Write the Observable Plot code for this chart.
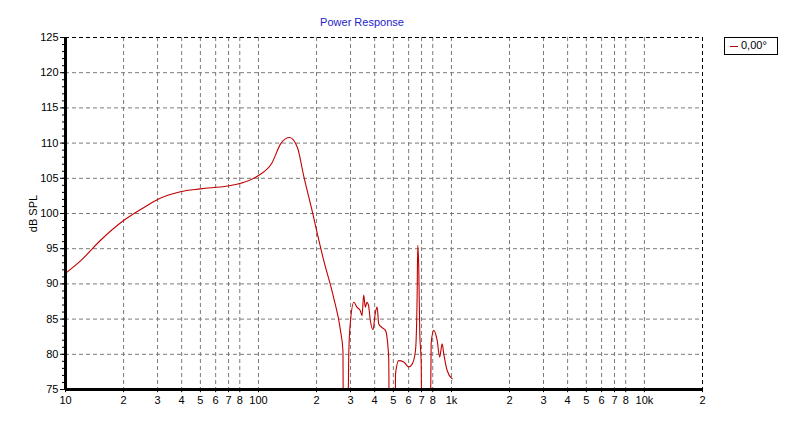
<!DOCTYPE html>
<html>
<head>
<meta charset="utf-8">
<script src="https://cdn.jsdelivr.net/npm/d3@7"></script>
<script src="https://cdn.jsdelivr.net/npm/@observablehq/plot@0.6"></script>
<style>
  html, body { margin: 0; padding: 0; background: #fff; }
  #wrap { position: relative; width: 792px; height: 426px; font-family: "Liberation Sans", Arial, sans-serif; }
  #title { position: absolute; left: 0; width: 724px; top: 16px; text-align: center; font-size: 11px; color: #2424c8; }
  #legend { position: absolute; left: 724px; top: 37px; width: 52px; height: 16px; border: 1px solid #000; font-size: 11px; box-sizing: content-box; }
  #legend .sw { position: absolute; left: 5px; top: 8px; width: 8px; height: 1px; background: #c00000; }
  #legend .tx { position: absolute; left: 16px; top: 1px; }
</style>
</head>
<body>
<div id="wrap">
  <div id="title">Power Response</div>
  <div id="legend"><div class="sw"></div><div class="tx">0,00°</div></div>
  <div id="chart"></div>
</div>
<script>
const freq = [10, 12, 15.2, 20, 26, 30, 39.4, 50, 69, 81, 100, 117, 131, 145, 159, 172, 193, 200, 218, 245, 266, 274, 276,
  288, 294, 300, 312, 324, 337, 344, 351, 358, 365, 372, 380, 392, 404, 412, 420, 437, 455, 473, 479,
  507, 513, 533, 566, 601, 626, 651, 664, 669, 677, 685, 697, 705,
  772, 785, 809, 843, 869, 895, 912, 950, 1009];
const spl = [91.5, 93.3, 96.2, 99.0, 101.0, 102.0, 103.1, 103.5, 103.9, 104.3, 105.4, 107.1, 110.0, 110.8, 109.4, 105.2, 99.5, 97.6, 93.3, 88.1, 83.4, 80.5, 60,
  60, 80.5, 84.8, 87.4, 86.7, 86.2, 85.5, 88.4, 86.7, 87.4, 86.9, 84.8, 83.5, 86.0, 86.7, 84.3, 83.8, 83.4, 79.6, 60,
  60, 77.2, 79.1, 78.9, 78.2, 78.6, 80.5, 88.1, 95.5, 92.4, 83.4, 78.6, 60,
  60, 81.5, 83.4, 82.0, 79.6, 81.5, 80.1, 77.7, 76.5];
const xTicks = [10, 20, 30, 40, 50, 60, 70, 80, 100, 200, 300, 400, 500, 600, 700, 800, 1000, 2000, 3000, 4000, 5000, 6000, 7000, 8000, 10000, 20000];
const xTickLabels = ["10", "2", "3", "4", "5", "6", "7", "8", "100", "2", "3", "4", "5", "6", "7", "8", "1k", "2", "3", "4", "5", "6", "7", "8", "10k", "2"];
const yMajor = [75, 80, 85, 90, 95, 100, 105, 110, 115, 120, 125];
const yMinor = d3.range(75, 126);

const data = freq.map((f, i) => ({f, db: spl[i]}));
const xt = xTicks.map((t, i) => ({t, label: xTickLabels[i]}));
const grid = {stroke: "#7a7a7a", strokeOpacity: 1, strokeDasharray: "4,3", strokeWidth: 1};
const border = {stroke: "#000", strokeOpacity: 1, strokeDasharray: "4,3", strokeWidth: 1};

const chart = Plot.plot({
  width: 792,
  height: 426,
  marginLeft: 65,
  marginRight: 90,
  marginTop: 37,
  marginBottom: 37,
  style: {fontFamily: "Liberation Sans, Arial, sans-serif", fontSize: "11px", color: "#000", background: "transparent"},
  x: {type: "log", domain: [10, 20000], axis: null},
  y: {domain: [75, 125], axis: null},
  marks: [
    Plot.ruleX(xt.slice(0, -1), {x: "t", ...grid}),
    Plot.ruleY(yMajor.slice(0, -1), grid),
    Plot.ruleX([20000], border),
    Plot.ruleY([125], border),
    Plot.axisY({ticks: yMinor, tickSize: 3, tickFormat: () => "", label: null}),
    Plot.axisY({ticks: yMajor, tickSize: 5, tickPadding: 2, fontSize: 11, label: "dB SPL", labelAnchor: "center", labelArrow: "none", labelOffset: 36}),
    Plot.ruleX(xt, {x: "t", y1: 75, y2: 74.55, stroke: "#000", strokeWidth: 1}),
    Plot.text(xt, {x: "t", text: "label", frameAnchor: "bottom", dy: 14, fontSize: 11, fill: "#000"}),
    Plot.line(data, {x: "f", y: "db", stroke: "#c00000", strokeWidth: 1.1, clip: true, curve: "monotone-x"}),
    Plot.ruleX([10], {stroke: "#000", strokeWidth: 3}),
    Plot.ruleY([75], {stroke: "#000", strokeWidth: 3})
  ]
});
document.getElementById("chart").appendChild(chart);
</script>
</body>
</html>
